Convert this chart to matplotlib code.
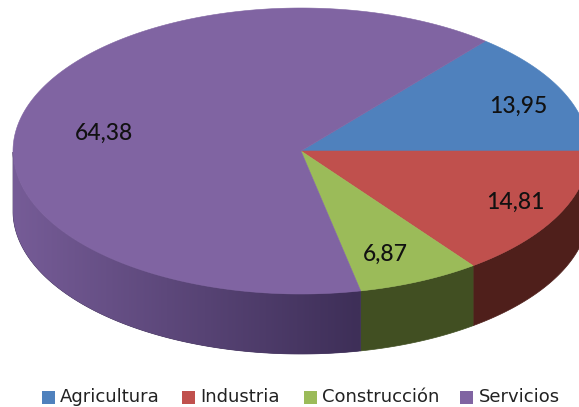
import numpy as np
import matplotlib
matplotlib.use("Agg")
import matplotlib.pyplot as plt
from matplotlib.patches import Polygon, Rectangle
from matplotlib.colors import LinearSegmentedColormap

categories = ["Agricultura", "Industria", "Construcción", "Servicios"]
values = [13.95, 14.81, 6.87, 64.38]
value_labels = ["13,95", "14,81", "6,87", "64,38"]
top_colors = ["#4f81bd", "#c0504d", "#9bbb59", "#8064a2"]
side_left = ["#2f4d70", "#4f1f1b", "#414f22", "#765c97"]
side_right = ["#2f4d70", "#4f1f1b", "#414f22", "#3e2f58"]
label_pos = [(518, 106), (515, 202), (385, 254), (104, 133)]
legend_x = [42, 182, 304, 460]
legend_text_x = [60, 200, 322, 479]

cx, cy, rx, ry = 301, 151, 288, 143
depth = 60

fig = plt.figure(figsize=(5.79, 4.07), dpi=100)
ax = fig.add_axes([0, 0, 1, 1])

total = sum(values)
# first slice sits above the 3 o'clock line, the rest run clockwise from it
start = values[0] / total * 360
for val, col, c0, c1 in zip(values, top_colors, side_left, side_right):
    end = start - val / total * 360
    th = np.radians(np.linspace(start, end, 300))
    xs = cx + rx * np.cos(th)
    ys = cy - ry * np.sin(th)
    front = np.sin(th) <= 0.001
    if front.any():
        fx, fy = xs[front], ys[front]
        pts = np.column_stack([np.r_[fx, fx[::-1]], np.r_[fy, fy[::-1] + depth]])
        wall = Polygon(pts, closed=True, fc=c1, ec=c1, lw=0.5, zorder=1)
        ax.add_patch(wall)
        cmap = LinearSegmentedColormap.from_list("side", [c0, c1])
        im = ax.imshow(np.linspace(0, 1, 256).reshape(1, -1), cmap=cmap, aspect="auto",
                       extent=(13, 359, 407, 0), zorder=1.5) if c0 != c1 else None
        if im is not None:
            im.set_clip_path(wall)
    ax.add_patch(Polygon(np.column_stack([np.r_[cx, xs], np.r_[cy, ys]]),
                         closed=True, fc=col, ec=col, lw=0.4, zorder=2))
    start = end

for (x, y), txt in zip(label_pos, value_labels):
    ax.text(x, y, txt, fontsize=16.5, family="Lato", fontweight="medium", color="#111111",
            ha="center", va="center", zorder=3)

for bx, tx, name, col in zip(legend_x, legend_text_x, categories, top_colors):
    ax.add_patch(Rectangle((bx, 391), 13, 13, fc=col, ec="none"))
    ax.text(tx, 397, name, fontsize=13, family="DejaVu Sans", color="#222222",
            ha="left", va="center")

ax.set_xlim(0, 579)
ax.set_ylim(407, 0)
ax.axis("off")

fig.savefig("out.png", dpi=100)
